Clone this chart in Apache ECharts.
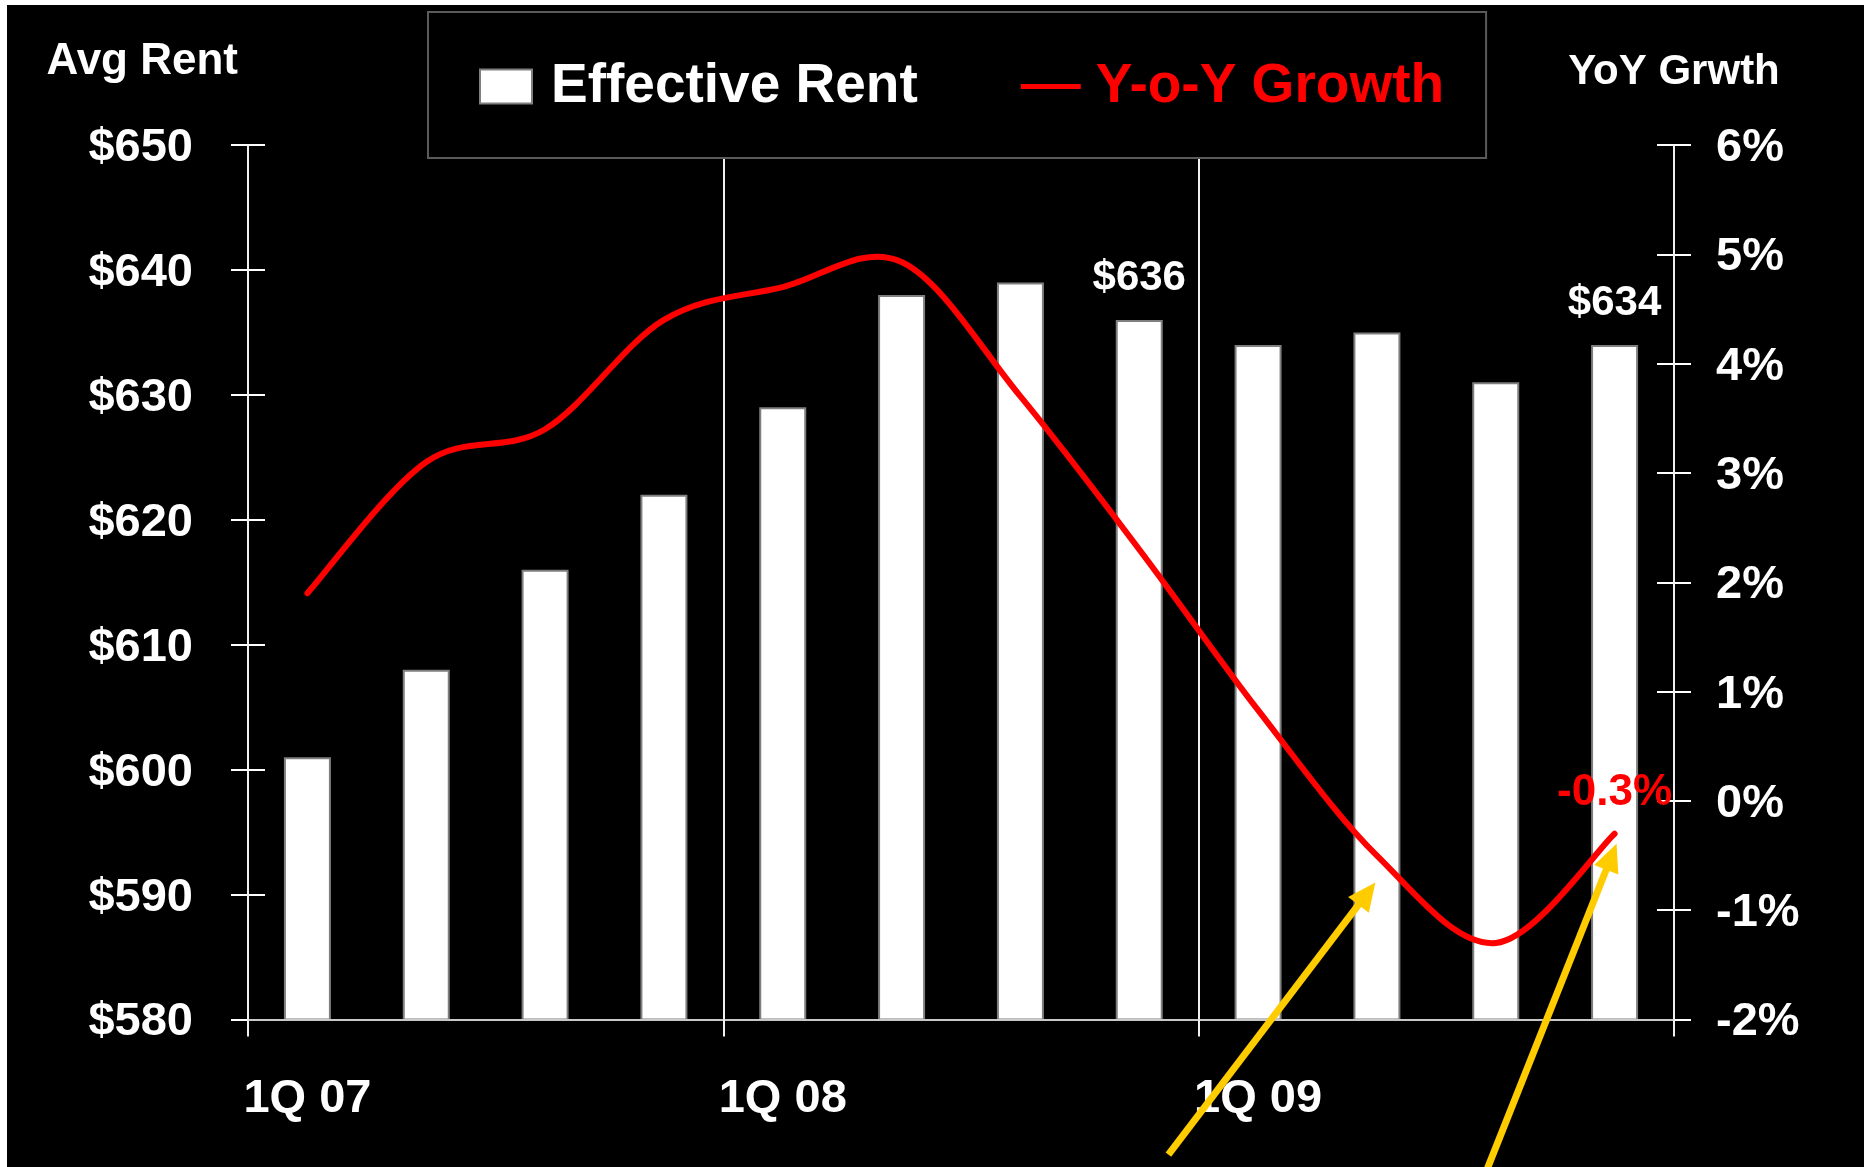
<!DOCTYPE html>
<html>
<head>
<meta charset="utf-8">
<title>Effective Rent and Y-o-Y Growth</title>
<script src="https://cdn.jsdelivr.net/npm/echarts@6/dist/echarts.min.js"></script>
<style>
  html, body { margin: 0; padding: 0; background: #ffffff; }
  #chart { position: absolute; left: 7px; top: 5px; width: 1857px; height: 1162px; background: #000; }
</style>
</head>
<body>
<div id="chart"></div>
<script>
// Quarterly categories
const quarters = ['1Q 07', '2Q 07', '3Q 07', '4Q 07',
                  '1Q 08', '2Q 08', '3Q 08', '4Q 08',
                  '1Q 09', '2Q 09', '3Q 09', '4Q 09'];
// Average effective rent, $ per month
const effectiveRent = [601, 608, 616, 622, 629, 638, 639, 636, 634, 635, 631, 634];
// Year-over-year growth of effective rent, %
const yoyGrowth = [1.9, 3.1, 3.4, 4.4, 4.7, 4.93, 3.7, 2.3, 0.83, -0.5, -1.3, -0.3];
// Axis ranges: [min, max, step]
const rentRange = [580, 650, 10];
const growthRange = [-2, 6, 1];
// Quarters whose rent is printed above the bar
const labelledRent = [7, 11];
// Growth points picked out by the yellow call-out arrows
const arrowTargets = [9, 11];

const FONT = '"Liberation Sans", Arial, Helvetica, sans-serif';
const RED = '#ff0000';
const YELLOW = '#ffcc00';

// Catmull-Rom spline through pixel points, as SVG path data
function splinePath(pts) {
  let d = 'M' + pts[0][0] + ',' + pts[0][1];
  for (let i = 0; i < pts.length - 1; i++) {
    const p0 = pts[i - 1] || pts[i];
    const p1 = pts[i];
    const p2 = pts[i + 1];
    const p3 = pts[i + 2] || p2;
    const c1x = p1[0] + (p2[0] - p0[0]) / 6, c1y = p1[1] + (p2[1] - p0[1]) / 6;
    const c2x = p2[0] - (p3[0] - p1[0]) / 6, c2y = p2[1] - (p3[1] - p1[1]) / 6;
    d += ' C' + c1x + ',' + c1y + ' ' + c2x + ',' + c2y + ' ' + p2[0] + ',' + p2[1];
  }
  return d;
}

// Arrow placement relative to the point it marks: tip offset and tail vector (px)
const arrowShapes = [
  { tip: [-1.5, 27], tail: [-207, 272] },
  { tip: [2, 10], tail: [-140, 352] }
];

function yAxisBase(range, position) {
  return {
    type: 'value',
    position: position,
    min: range[0],
    max: range[1],
    interval: range[2],
    splitLine: { show: false },
    axisLine: { show: false, onZero: false },
    axisLabel: { show: false },
    axisTick: { show: true, inside: true, length: 17, lineStyle: { color: '#fff', width: 2 } }
  };
}

// Tick labels sit a few pixels below their tick
const tickLabelStyle = {
  show: true, color: '#fff', fontSize: 47, fontWeight: 'bold', fontFamily: FONT,
  verticalAlign: 'top', lineHeight: 6
};

const chart = echarts.init(document.getElementById('chart'), null, { renderer: 'canvas' });

const option = {
  backgroundColor: '#000',
  animation: false,
  textStyle: { fontFamily: FONT, fontWeight: 'bold' },
  legend: {
    left: 421,
    top: 7,
    padding: [47, 42, 44, 51],
    backgroundColor: '#000',
    borderColor: '#5a5a5a',
    borderWidth: 2,
    itemWidth: 60,
    itemHeight: 34,
    itemGap: 103,
    selectedMode: false,
    textStyle: { fontFamily: FONT, fontWeight: 'bold', fontSize: 55, lineHeight: 54, padding: [0, 0, 0, 10] },
    data: [
      { name: 'Effective Rent', icon: 'path://M0,0H52V34H0Z', textStyle: { color: '#ffffff' } },
      { name: 'Y-o-Y Growth', icon: 'path://M0,0H60V5H0Z', textStyle: { color: RED } }
    ]
  },
  grid: { left: 241, right: 190, top: 140, bottom: 147.5 },
  xAxis: {
    type: 'category',
    data: quarters,
    boundaryGap: true,
    z: 3,
    axisLine: { onZero: false, lineStyle: { color: '#c8c8c8', width: 2 } },
    axisTick: { show: true, interval: 3, length: 17, lineStyle: { color: '#f0f0f0', width: 2 } },
    axisLabel: { interval: 3, margin: 56, color: '#fff', fontSize: 47, fontWeight: 'bold', fontFamily: FONT },
    splitLine: { show: true, interval: 3, lineStyle: { color: '#f0f0f0', width: 2 } }
  },
  yAxis: [
    Object.assign(yAxisBase(rentRange, 'left'), {
      axisLine: { show: true, onZero: false, lineStyle: { color: '#fff', width: 2 } },
      axisTick: { show: true, inside: false, length: 17, lineStyle: { color: '#fff', width: 2 } },
      axisLabel: Object.assign({}, tickLabelStyle, { margin: 55, formatter: v => '$' + v }),
      name: 'Avg Rent',
      nameLocation: 'end',
      nameGap: 61.5,
      nameTextStyle: { color: '#fff', fontSize: 44, fontWeight: 'bold', fontFamily: FONT, align: 'right', padding: [0, 10, 0, 0] }
    }),
    Object.assign(yAxisBase(growthRange, 'right'), {
      axisLine: { show: true, onZero: false, lineStyle: { color: '#fff', width: 2 } },
      axisTick: { show: true, inside: false, length: 17, lineStyle: { color: '#fff', width: 2 } },
      axisLabel: Object.assign({}, tickLabelStyle, { margin: 42, formatter: v => v + '%' }),
      name: 'YoY Grwth',
      nameLocation: 'end',
      nameGap: 51.5,
      nameTextStyle: { color: '#fff', fontSize: 42, fontWeight: 'bold', fontFamily: FONT }
    }),
    // inner halves of the crossing tick marks
    yAxisBase(rentRange, 'left'),
    yAxisBase(growthRange, 'right')
  ],
  series: [
    {
      name: 'Effective Rent',
      type: 'bar',
      xAxisIndex: 0,
      yAxisIndex: 0,
      barWidth: 47,
      z: 2,
      itemStyle: { color: '#ffffff', borderColor: '#7f7f7f', borderWidth: 2 },
      data: effectiveRent.map((v, i) => labelledRent.indexOf(i) >= 0 ? {
        value: v,
        label: {
          show: true, position: 'top', distance: 20,
          color: '#fff', fontSize: 42, fontWeight: 'bold', fontFamily: FONT,
          formatter: p => '$' + p.value
        }
      } : v)
    },
    {
      name: 'Y-o-Y Growth',
      type: 'custom',
      xAxisIndex: 0,
      yAxisIndex: 1,
      clip: false,
      z: 4,
      silent: true,
      itemStyle: { color: RED },
      encode: { x: 0, y: 1 },
      data: yoyGrowth.map((v, i) => [i, v]),
      renderItem: function (params, api) {
        const n = yoyGrowth.length;
        if (params.dataIndex !== n - 1) return null;
        const pts = yoyGrowth.map((v, i) => api.coord([i, v]));
        const last = pts[n - 1];
        return {
          type: 'group',
          children: [
            {
              type: 'path',
              shape: { pathData: splinePath(pts) },
              style: { stroke: RED, lineWidth: 6, fill: 'none', lineJoin: 'round', lineCap: 'round' }
            },
            {
              type: 'text',
              x: last[0],
              y: last[1] - 19,
              style: {
                text: yoyGrowth[n - 1].toFixed(1) + '%',
                fill: RED, fontSize: 44, fontWeight: 'bold', fontFamily: FONT,
                align: 'center', verticalAlign: 'bottom'
              }
            }
          ]
        };
      }
    },
    {
      name: 'call-outs',
      type: 'custom',
      xAxisIndex: 0,
      yAxisIndex: 1,
      clip: false,
      z: 10,
      silent: true,
      encode: { x: 0, y: 1 },
      data: arrowTargets.map(i => [i, yoyGrowth[i]]),
      renderItem: function (params, api) {
        const p = api.coord([api.value(0), api.value(1)]);
        const s = arrowShapes[params.dataIndex];
        const tip = [p[0] + s.tip[0], p[1] + s.tip[1]];
        const tail = [tip[0] + s.tail[0], tip[1] + s.tail[1]];
        const len = Math.hypot(s.tail[0], s.tail[1]);
        const ux = -s.tail[0] / len, uy = -s.tail[1] / len;
        const headLen = 28, headHalf = 13;
        const bx = tip[0] - ux * headLen, by = tip[1] - uy * headLen;
        return {
          type: 'group',
          children: [
            {
              type: 'line',
              shape: { x1: tail[0], y1: tail[1], x2: bx + ux * 2, y2: by + uy * 2 },
              style: { stroke: YELLOW, lineWidth: 7 }
            },
            {
              type: 'polygon',
              shape: { points: [tip, [bx - uy * headHalf, by + ux * headHalf], [bx + uy * headHalf, by - ux * headHalf]] },
              style: { fill: YELLOW }
            }
          ]
        };
      }
    }
  ]
};

chart.setOption(option);
</script>
</body>
</html>
